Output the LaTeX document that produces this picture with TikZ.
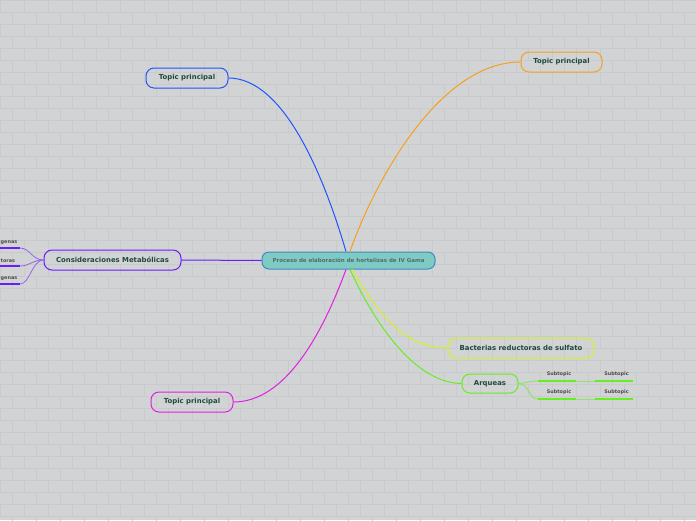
\documentclass[tikz,border=0pt]{standalone}
\usepackage{fontspec}
\setmainfont{DejaVu Sans}
\definecolor{bg}{HTML}{D2D3D5}
\definecolor{brick}{HTML}{C9CACC}
\definecolor{txt}{HTML}{1E4A3C}
\definecolor{cfill}{HTML}{7FCBC3}
\definecolor{cdraw}{HTML}{3B8CC4}
\definecolor{ctext}{HTML}{4E6E70}
\definecolor{cblue}{HTML}{2255FF}
\definecolor{corange}{HTML}{F5A020}
\definecolor{cpurple}{HTML}{6A1BFF}
\definecolor{cmag}{HTML}{E020E0}
\definecolor{cyel}{HTML}{D8F020}
\definecolor{cgreen}{HTML}{66EE22}
\begin{document}
\begin{tikzpicture}[x=1pt,y=-1pt,
  topic/.style={draw, line width=1pt, rounded corners=8pt, minimum height=20pt,
     inner sep=0pt, font=\bfseries\fontsize{6.9}{8}\selectfont, text=txt},
  conn/.style={line width=1pt},
  sub/.style={font=\bfseries\fontsize{4.9}{5.5}\selectfont, text=black!70, inner sep=0pt},
  uline/.style={line width=1.6pt}]
\useasboundingbox (0,0) rectangle (696,520);
\fill[bg] (0,0) rectangle (696,520);
\foreach \r in {0,...,43}{
  \draw[brick, line width=0.4pt] (0,{\r*12}) -- (696,{\r*12});
  \pgfmathsetmacro{\off}{mod(\r,2)*12}
  \foreach \c in {0,...,29}{
    \draw[brick, line width=0.4pt] ({\c*24+\off},{\r*12}) -- ({\c*24+\off},{\r*12+12});
  }
}
% central node
\node[draw=cdraw, fill=cfill, line width=1pt, rounded corners=7pt, minimum width=173pt,
  minimum height=17pt, inner sep=0pt, text=ctext,
  font=\bfseries\fontsize{5.5}{6.5}\selectfont] (c) at (348.5,260.5)
  {Proceso de elaboración de hortalizas de IV Gama};
% topics
\node[topic, draw=cblue, minimum width=82pt] (tb) at (187,78) {Topic principal};
\node[topic, draw=corange, minimum width=81pt] (to) at (561.5,62) {Topic principal};
\node[topic, draw=cpurple, minimum width=137pt] (cm) at (112.5,260) {Consideraciones Metabólicas};
\node[topic, draw=cmag, minimum width=82pt] (tm) at (192,402) {Topic principal};
\node[topic, draw=cyel, minimum width=146pt] (bs) at (521,348) {Bacterias reductoras de sulfato};
\node[topic, draw=cgreen, minimum width=56pt, minimum height=19pt] (ar) at (490,383.5) {Arqueas};
% main connectors
\draw[conn, cblue] ([xshift=-2.5pt]c.north) .. controls (325,180) and (285,78) .. (tb.east);
\draw[conn, corange] ([xshift=1.5pt]c.north) .. controls (375,180) and (440,62) .. (to.west);
\draw[conn, cpurple] (c.west) -- (cm.east);
\draw[conn, cmag] ([xshift=-2.5pt]c.south) .. controls (322,335) and (285,402) .. (tm.east);
\draw[conn, cyel] ([xshift=3.5pt]c.south) .. controls (385,325) and (410,348) .. (bs.west);
\draw[conn, cgreen] ([xshift=1.5pt]c.south) .. controls (380,335) and (420,383) .. (ar.west);
% Arqueas subtopics
\coordinate (a1) at (538,381); \coordinate (a2) at (576,381);
\coordinate (a3) at (595,381); \coordinate (a4) at (633,381);
\coordinate (b1) at (538,399); \coordinate (b2) at (576,399);
\coordinate (b3) at (595,399); \coordinate (b4) at (633,399);
\draw[uline, cgreen] (a1) -- (a2); \draw[uline, cgreen] (a3) -- (a4);
\draw[uline, cgreen] (b1) -- (b2); \draw[uline, cgreen] (b3) -- (b4);
\draw[line width=0.8pt, cgreen!60!bg] (a2) -- (a3);
\draw[line width=0.8pt, cgreen!60!bg] (b2) -- (b3);
\draw[line width=0.8pt, cgreen!70!bg] (ar.east) .. controls (528,383) and (528,381) .. (a1);
\draw[line width=0.8pt, cgreen!70!bg] (ar.east) .. controls (530,384) and (528,399) .. (b1);
\node[sub] (s1) at (559,374.5) {Subtopic};
\node[sub] (s2) at (616.5,374.5) {Subtopic};
\node[sub] (s3) at (559,392.5) {Subtopic};
\node[sub] (s4) at (616.5,392.5) {Subtopic};
% left subtopics
\coordinate (l1a) at (0,248); \coordinate (l1b) at (20,248);
\coordinate (l2a) at (0,266); \coordinate (l2b) at (20,266);
\coordinate (l3a) at (0,284); \coordinate (l3b) at (20,284);
\draw[uline, cpurple] (l1a) -- (l1b);
\draw[uline, cpurple] (l2a) -- (l2b);
\draw[uline, cpurple] (l3a) -- (l3b);
\draw[line width=0.8pt, cpurple!60!bg] (cm.west) .. controls (32,260) and (30,248) .. (l1b);
\draw[line width=0.8pt, cpurple!60!bg] (cm.west) .. controls (32,260) and (30,266) .. (l2b);
\draw[line width=0.8pt, cpurple!60!bg] (cm.west) .. controls (32,260) and (30,284) .. (l3b);
\node[sub, anchor=west] (t1) at (0.5,242.5) {genas};
\node[sub, anchor=west] (t2) at (0.5,260.5) {toras};
\node[sub, anchor=west] (t3) at (0.5,278.5) {genas};
\end{tikzpicture}
\end{document}
